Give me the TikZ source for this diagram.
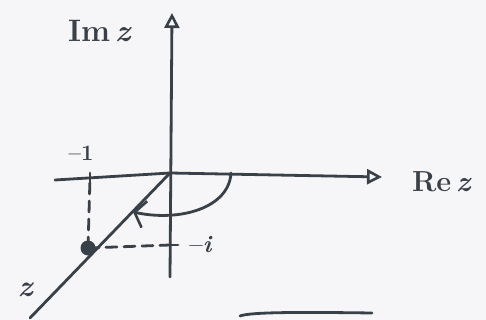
\documentclass[tikz,border=0pt]{standalone}
\usepackage{fontspec}
\usetikzlibrary{arrows.meta}
\definecolor{ink}{HTML}{3A4048}
\definecolor{paper}{HTML}{F6F6F8}
\begin{document}
\begin{tikzpicture}[x=1pt,y=-1pt,
  pen/.style={draw=ink,line width=2.8pt,line cap=round,line join=round},
  axisarrow/.style={pen,-{Triangle[open,length=15pt,width=15pt,line width=2.6pt]}},
  guide/.style={pen,dash pattern=on 11pt off 7pt},
  lbl/.style={text=ink,inner sep=0pt}]
\fill[paper] (0,0) rectangle (486,320);
\useasboundingbox (0,0) rectangle (486,320);
% points
\coordinate (O) at (170,173);
\coordinate (xL) at (55,180);
\coordinate (xR) at (382,177);
\coordinate (yB) at (170,277);
\coordinate (yT) at (172,13);
\coordinate (zEnd) at (30,318);
\coordinate (tickM1) at (90,178);
\coordinate (tickI) at (170,245);
\coordinate (arcS) at (231,173);
\coordinate (arcE) at (133,212);
% axes
\draw[axisarrow] (xL) -- (O) -- (xR);
\draw[axisarrow] (yB) -- (yT);
\draw[pen] (O) -- (zEnd);
% point
\node[circle,fill=ink,minimum size=15pt,inner sep=0pt] (P) at (88,248) {};
% guides
\draw[guide] (P.center) -- (tickM1);
\draw[pen] (90,173) -- (90,188);
\draw[guide] (P.center) -- (tickI);
\draw[pen] (162,245) -- (178,245);
% rotation arc
\draw[pen,-{Straight Barb[length=10pt,width=27pt,line width=2.6pt]}] (arcS) .. controls (229,208) and (180,222) .. (arcE);
% bottom stroke
\draw[pen] (240,316) .. controls (250,312) and (300,312) .. (372,313);
% labels
\node[lbl,font=\bfseries\fontsize{31}{31}\selectfont] (Im) at (100,31) {Im\,\textit{z}};
\node[lbl,font=\bfseries\fontsize{29}{29}\selectfont] (Re) at (442,182) {Re\,\textit{z}};
\node[lbl,font=\bfseries\fontsize{22}{22}\selectfont] (m1) at (81,153) {–1};
\node[lbl,font=\bfseries\fontsize{24}{24}\selectfont] (mi) at (201,245) {–\textit{i}};
\node[lbl,font=\bfseries\fontsize{30}{30}\selectfont] (zl) at (26,290) {\textit{z}};
\end{tikzpicture}
\end{document}
